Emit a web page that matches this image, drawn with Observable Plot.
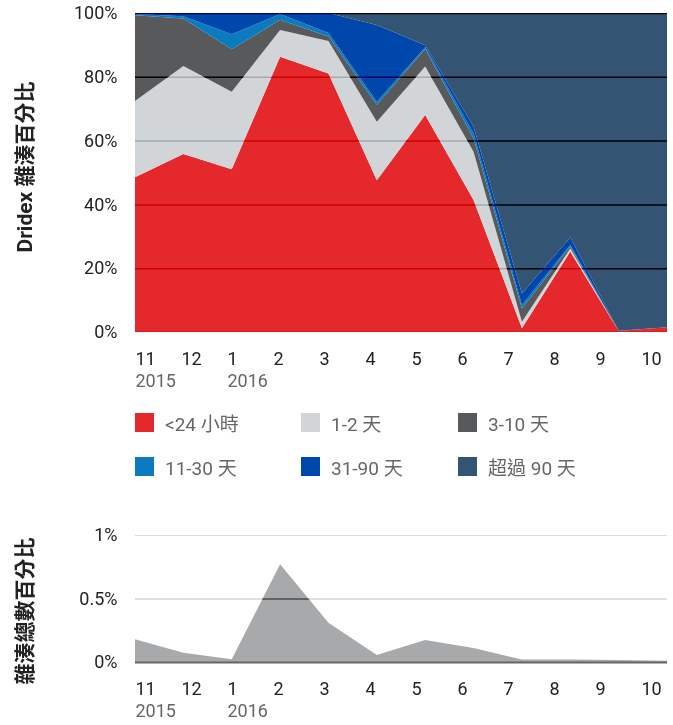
<!DOCTYPE html>
<html><head><meta charset="utf-8">
<script src="https://cdn.jsdelivr.net/npm/d3@7"></script>
<script src="https://cdn.jsdelivr.net/npm/@observablehq/plot@0.6"></script>
<style>
body{margin:0;background:#fff;font-family:Roboto,"Noto Sans CJK TC",sans-serif;}
#wrap{position:relative;width:673px;height:725px;overflow:hidden;}
#top{position:absolute;left:0;top:0;}
#bottom{position:absolute;left:0;top:500px;}
.legend{position:absolute;left:135px;top:413px;display:grid;grid-template-columns:166px 157px 200px;grid-auto-rows:44px;}
.item{display:flex;align-items:center;font-size:19px;color:#666;height:19px;white-space:nowrap;}
.sw{width:19px;height:19px;margin-right:11px;flex:none;}
</style></head><body>
<div id="wrap"><div id="top"></div><div class="legend" id="legend"></div><div id="bottom"></div></div>
<script>
const months = ["11","12","1","2","3","4","5","6","7","8","9","10"];
const years = ["2015","","2016","","","","","","","","",""];
const categories = ["<24 小時","1-2 天","3-10 天","11-30 天","31-90 天","超過 90 天"];
const colors = ["#e5282c","#d1d5d8","#58595b","#0a7bbf","#0047ab","#345474"];
const lt24 =    [48.5,55.8,51.0,86.3,81.0,47.6,68.0,41.4,1.2,25.2,0.3,1.5];
const d1to2 =   [23.9,27.6,24.3,8.4,10.2,18.3,15.2,15.1,2.0,1.0,0,0];
const d3to10 =  [26.9,14.9,13.3,3.2,1.4,5.3,5.5,4.2,4.2,0.6,0,0];
const d11to30 = [0.4,0.7,4.7,1.8,1.1,1.0,0.6,1.6,1.1,0.5,0,0];
const d31to90 = [0.3,1.0,6.7,0.3,6.3,24.0,0.6,2.1,3.6,2.4,0.1,0];
const over90 =  [0,0,0,0,0,3.8,10.1,35.6,87.9,70.3,99.6,98.5];
const totalShare = [0.18,0.073,0.021,0.77,0.31,0.055,0.173,0.11,0.02,0.02,0.015,0.01];
const topTicks = [0,20,40,60,80,100];
const bottomTicks = [0,0.5,1];
const topTitle = "Dridex 雜湊百分比";
const bottomTitle = "雜湊總數百分比";

const series = [lt24,d1to2,d3to10,d11to30,d31to90,over90];
const rows = [];
series.forEach((s,c)=>s.forEach((v,i)=>rows.push({i, v, cat: categories[c]})));
const labelStep = 0.951; // month labels are spaced slightly tighter than data points
const xTicks = months.map((_,k)=>k*labelStep);
const monthOf = d => months[Math.round(d/labelStep)];
const yearOf = d => years[Math.round(d/labelStep)];
const font = 'Roboto,"Noto Sans CJK TC",sans-serif';
const tickFont = 18;

function xAxes(){
  return [
    Plot.axisX({ticks:xTicks, tickSize:0, tickPadding:20, textAnchor:"start", tickFormat:monthOf, fontSize:tickFont, fill:"#222", label:null}),
    Plot.axisX({ticks:xTicks, tickSize:0, tickPadding:42, textAnchor:"start", tickFormat:yearOf, fontSize:tickFont, fill:"#666", label:null})
  ];
}
function title(t, dy){
  return Plot.text([t],{frameAnchor:"left", dx:-110, dy, rotate:-90, textAnchor:"middle", fontSize:21, fontWeight:"bold", fill:"#222", letterSpacing:"0.5px"});
}

const topPlot = Plot.plot({
  width:673, height:395, marginLeft:135, marginRight:6, marginTop:13, marginBottom:63,
  style:{fontFamily:font, background:"#fff", overflow:"visible"},
  x:{domain:[0,11]},
  y:{domain:[0,100]},
  color:{domain:categories, range:colors},
  marks:[
    Plot.areaY(rows,{x:"i", y:"v", z:"cat", fill:"cat"}),
    Plot.ruleY(topTicks,{stroke:"#808080", strokeWidth:1.5, mixBlendMode:"color-burn"}),
    Plot.axisY({ticks:topTicks, tickFormat:d=>d+"%", tickSize:0, tickPadding:18, fontSize:tickFont, fill:"#222", label:null}),
    ...xAxes(),
    title(topTitle, -6)
  ]
});
document.getElementById("top").appendChild(topPlot);

const lg = document.getElementById("legend");
categories.forEach((c,k)=>{
  const it = document.createElement("div"); it.className="item";
  it.innerHTML = `<span class="sw" style="background:${colors[k]}"></span><span>${c.replace("<","&lt;")}</span>`;
  lg.appendChild(it);
});

const bottomPlot = Plot.plot({
  width:673, height:225, marginLeft:135, marginRight:6, marginTop:35, marginBottom:63,
  style:{fontFamily:font, background:"#fff", overflow:"visible"},
  x:{domain:[0,11]},
  y:{domain:[0,1]},
  marks:[
    Plot.ruleY([0.5,1],{stroke:"#dcdcdc", strokeWidth:1}),
    Plot.areaY(totalShare,{x:(d,i)=>i, y:d=>d, fill:"#a8a9ab"}),
    Plot.ruleY([0.5],{stroke:"#8c8c8c", strokeWidth:2, mixBlendMode:"color-burn"}),
    Plot.ruleY([0],{stroke:"#666", strokeWidth:2}),
    Plot.axisY({ticks:bottomTicks, tickFormat:d=>d+"%", tickSize:0, tickPadding:18, fontSize:tickFont, fill:"#222", label:null}),
    ...xAxes(),
    title(bottomTitle, 12)
  ]
});
document.getElementById("bottom").appendChild(bottomPlot);
</script>
</body></html>
